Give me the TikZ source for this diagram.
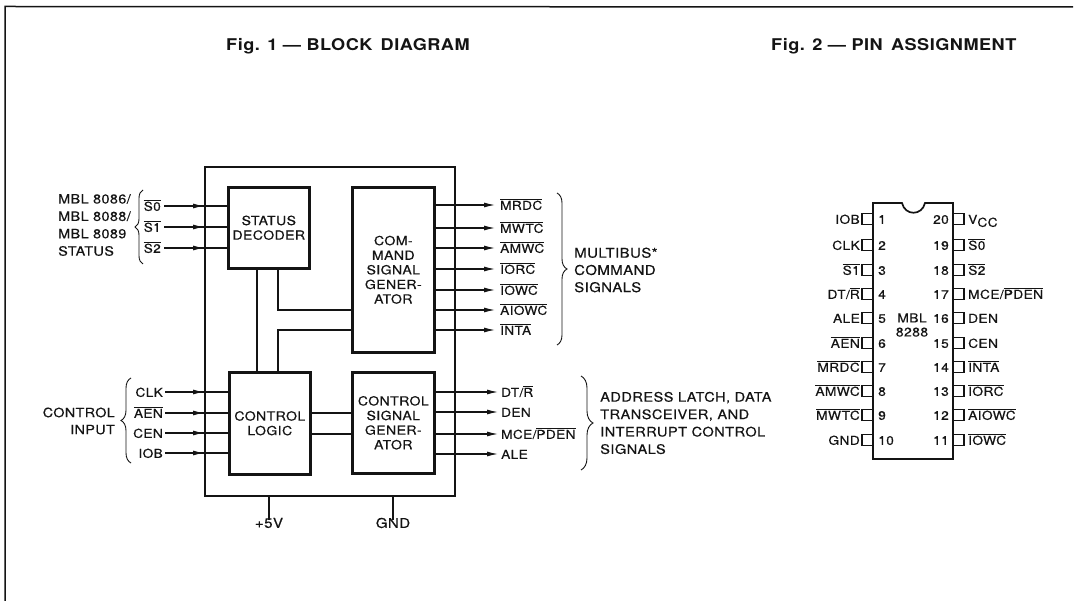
\documentclass[tikz,border=0pt]{standalone}
\usepackage{fontspec}
\setmainfont{TeX Gyre Heros}[LetterSpace=3,FakeBold=0.4,FakeStretch=1.12]
\newfontfamily\titlefont{TeX Gyre Heros Bold}[LetterSpace=3,FakeStretch=1.12]
\usetikzlibrary{arrows.meta,decorations.pathreplacing,calc}
\newcommand\ovl[1]{$\overline{\hbox{#1}}$}
\definecolor{ink}{HTML}{141414}
\tikzset{
  every node/.style={text=ink},
  txt/.style={inner sep=0pt,font=\fontsize{13.5}{14.6}\selectfont,align=center},
  blockbox/.style={draw=ink,line width=2.6pt,inner sep=0pt,anchor=north west,align=center,font=\fontsize{12.6}{14.6}\selectfont},
  sig/.style={inner sep=0pt,font=\fontsize{12.2}{14}\selectfont,text height=9.6pt,text depth=0pt},
  wire/.style={draw=ink,line width=1.1pt},
  arrowline/.style={wire,-{Latex[length=11pt,width=5pt]}},
  bigbrace/.style={draw=ink,line width=0.9pt,decorate,decoration={brace,amplitude=#1}},
  title/.style={inner sep=0pt,anchor=base west,font=\titlefont\fontsize{16.2}{18}\selectfont},
  note/.style={txt,align=left,anchor=west,font=\fontsize{13.2}{17.2}\selectfont},
  pinbox/.style={draw=ink,line width=1.4pt,minimum width=11pt,minimum height=11.5pt,inner sep=0pt},
  pinlab/.style={inner sep=0pt,font=\fontsize{12.3}{14}\selectfont,text height=9.6pt,text depth=0pt},
}
\begin{document}
\begin{tikzpicture}[x=1pt,y=-1pt]
\useasboundingbox (0,0) rectangle (1077,601);
% sheet frame
\draw[draw=ink,line width=1.5pt] (5,601) -- (5,6.5) -- (1073,7);
\node[title] (t1) at (226,51) {Fig. 1 \textemdash\ BLOCK\, DIAGRAM};
\node[title] (t2) at (771,51) {Fig. 2 \textemdash\ PIN\, ASSIGNMENT};
% block diagram
\node[draw=ink,line width=1.6pt,anchor=north west,minimum width=250pt,minimum height=329pt,inner sep=0pt] (chipbox) at (204,166) {};
\node[blockbox,minimum width=81pt,minimum height=81pt] (dec) at (227,186) {STATUS\\DECODER};
\node[blockbox,minimum width=82pt,minimum height=165pt] (cmd) at (351,186) {COM-\\MAND\\SIGNAL\\GENER-\\ATOR};
\node[blockbox,minimum width=81pt,minimum height=102pt] (log) at (228,371) {CONTROL\\LOGIC};
\node[blockbox,minimum width=82pt,minimum height=101pt] (gen) at (351,371) {CONTROL\\SIGNAL\\GENER-\\ATOR};
% inputs
\foreach \n/\y/\t in {s0/206/\ovl{S0},s1/227/\ovl{S1},s2/248/\ovl{S2}}{
  \node[sig,anchor=east] (\n) at (161,\y) {\t};
  \draw[wire,shorten <=3pt] (\n.east) -- (dec.west|-\n);
  \draw[arrowline,shorten <=3pt] (\n.east) -- (chipbox.west|-\n);
}
\foreach \n/\y/\t in {clk/392/CLK,aen/413/\ovl{AEN},cen/433/CEN,iob/453/IOB}{
  \node[sig,anchor=east] (\n) at (163,\y) {\t};
  \draw[wire,shorten <=2pt] (\n.east) -- (log.west|-\n);
  \draw[arrowline,shorten <=2pt] (\n.east) -- (chipbox.west|-\n);
}
% command outputs
\foreach \n/\y/\t in {mrdc/205/\ovl{MRDC},mwtc/228/\ovl{MWTC},amwc/248/\ovl{AMWC},iorc/269/\ovl{IORC},iowc/290/\ovl{IOWC},aiowc/310/\ovl{AIOWC},inta/330/\ovl{INTA}}{
  \node[sig,anchor=west] (\n) at (500,\y) {\t};
  \draw[arrowline,shorten >=5pt] (cmd.east|-\n) -- (\n.west);
}
\foreach \n/\y/\t in {dtr/392/{DT/\ovl{R}},den/412/DEN,mce/434/{MCE/\ovl{PDEN}},ale/454/ALE}{
  \node[sig,anchor=west] (\n) at (501,\y) {\t};
  \draw[arrowline,shorten >=3pt] (gen.east|-\n) -- (\n.west);
}
% internal wires
\coordinate (j1) at (278,310);
\coordinate (j2) at (278,330);
\coordinate (j3) at (257,310);
\coordinate (l1) at (309,413);
\coordinate (l2) at (309,434);
\draw[wire] (dec.south-|j1) -- (j1) -- (cmd.west|-j1);
\draw[wire] (log.north-|j2) -- (j2) -- (cmd.west|-j2);
\draw[wire] (dec.south-|j3) -- (log.north-|j3);
\draw[wire] (log.east|-l1) -- (gen.west|-l1);
\draw[wire] (log.east|-l2) -- (gen.west|-l2);
% supplies
\node[txt] (vcc) at (269,523) {+5V};
\node[txt] (gnd) at (393,523) {GND};
\draw[wire] (chipbox.south-|vcc) -- ([yshift=-2pt]vcc.north);
\draw[wire] (chipbox.south-|gnd) -- ([yshift=-2pt]gnd.north);
% braces
\draw[bigbrace=8pt] (143,264) -- (143,190);
\draw[bigbrace=10pt] (131,463) -- (131,378);
\draw[bigbrace=10pt] (557,193) -- (557,345);
\draw[bigbrace=12pt] (581,376) -- (581,470);
% group labels
\node[note,font=\fontsize{12.9}{17.4}\selectfont] (stat) at (58,225) {MBL 8086/\\MBL 8088/\\MBL 8089\\STATUS};
\node[txt,anchor=east,align=right,font=\fontsize{12.8}{17}\selectfont] (ctl) at (115,421) {CONTROL\\INPUT};
\node[note,font=\fontsize{13.4}{17.2}\selectfont] (multi) at (574,270) {MULTIBUS*\\COMMAND\\SIGNALS};
\node[note,font=\fontsize{13.1}{17.4}\selectfont] (addr) at (600,423) {ADDRESS LATCH, DATA\\TRANSCEIVER, AND\\INTERRUPT CONTROL\\SIGNALS};
% pin assignment
\draw[draw=ink,line width=1.7pt,fill=white] (873,203) -- (902,203) .. controls (905,216) and (922,216) .. (925,203) -- (953,203) -- (953,459) -- (873,459) -- cycle;
\node[txt,font=\fontsize{12.5}{14}\selectfont] (mbl) at (912,325) {MBL\\8288};
\foreach \i/\y/\t in {1/219/IOB,2/245/CLK,3/270/\ovl{S1},4/294/{DT/\ovl{R}},5/318/ALE,6/343/\ovl{AEN},7/367/\ovl{MRDC},8/391/\ovl{AMWC},9/415/\ovl{MWTC},10/440/GND}{
  \node[pinbox] (pl\i) at (867.5,\y) {};
  \node[pinlab,anchor=east] (ll\i) at (860,\y) {\t};
  \node[pinlab,anchor=west] (nl\i) at (878,\y) {\i};
}
\foreach \i/\y/\t in {20/219/{V\raisebox{-3pt}{CC}},19/245/\ovl{S0},18/270/\ovl{S2},17/294/{MCE/\ovl{PDEN}},16/318/DEN,15/343/CEN,14/367/\ovl{INTA},13/391/\ovl{IORC},12/415/\ovl{AIOWC},11/440/\ovl{IOWC}}{
  \node[pinbox] (pr\i) at (958.5,\y) {};
  \node[pinlab,anchor=west] (lr\i) at (968,\y) {\t};
  \node[pinlab,anchor=east] (nr\i) at (949,\y) {\i};
}
\end{tikzpicture}
\end{document}
